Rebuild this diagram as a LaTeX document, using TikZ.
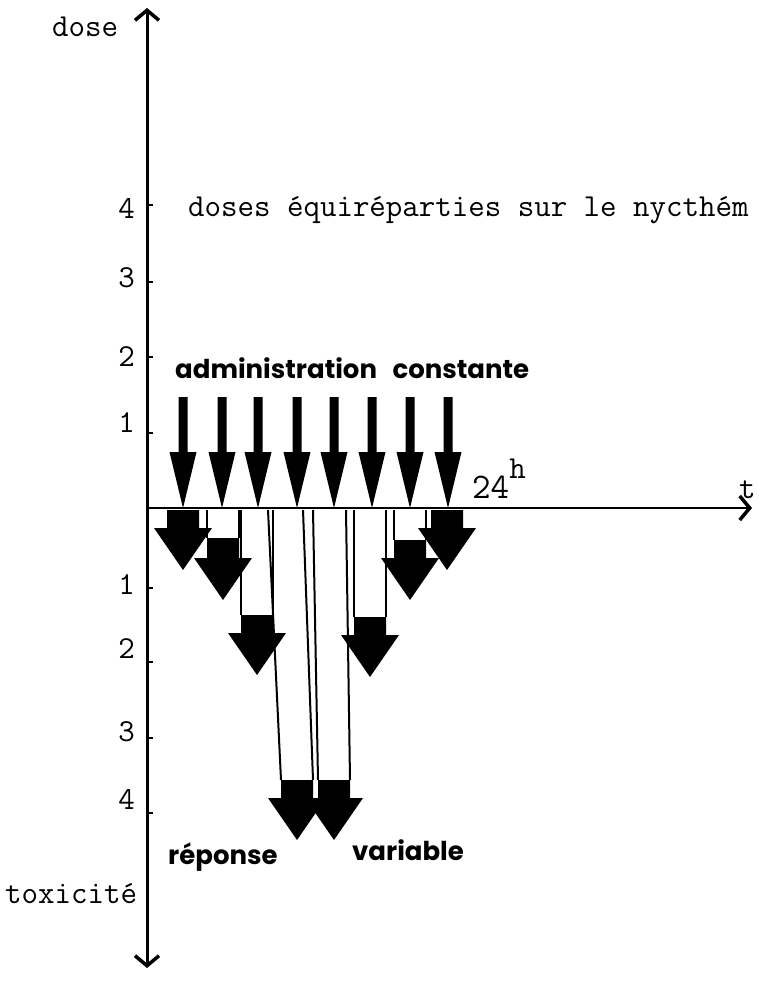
\documentclass[tikz,border=0pt]{standalone}
\usepackage{fontspec}
\newfontfamily\handfont{Poppins}
\usetikzlibrary{arrows.meta}

\begin{document}
\begin{tikzpicture}[
  x=1pt, y=-1pt,
  axis/.style={line width=3pt},
  barb/.style={-{Straight Barb[length=10pt,width=24pt,line width=3.5pt]}},
  tick/.style={line width=1.5pt},
  typed/.style={inner sep=0pt, font=\fontsize{32}{36}\selectfont\ttfamily},
  hand/.style={inner sep=0pt, font=\fontsize{26}{30}\selectfont\handfont\bfseries},
  shaft/.style={line width=2pt}
]
  \useasboundingbox (0,0) rectangle (758,981);

  % Axes
  \coordinate (origin) at (147,508);
  \coordinate (dosetop) at (147,8);
  \coordinate (toxbottom) at (147,968);
  \coordinate (tend) at (752,508);
  \draw[axis, barb] (origin) -- (dosetop);
  \draw[axis, barb] (origin) -- (toxbottom);
  \draw[line width=2.5pt, barb] (origin) -- (tend);

  % Graduations
  \foreach \yt/\yl/\v in {433/423/1, 357/357/2, 282/278/3, 205/209/4} {
    \draw[tick] (147,\yt) -- (153,\yt);
    \node[typed, anchor=east] (up\v) at (135,\yl) {\v};
  }
  \foreach \yt/\yl/\v in {588/585/1, 662/649/2, 738/732/3, 813/799/4} {
    \draw[tick] (147,\yt) -- (153,\yt);
    \node[typed, anchor=east] (down\v) at (135,\yl) {\v};
  }

  % Labels
  \node[typed, anchor=base west] (dose) at (52,37) {dose};
  \node[typed, anchor=base west] (doses) at (188,217) {doses équiréparties sur le nycthém};
  \node[typed, anchor=base west] (toxicite) at (5,903) {toxicité};
  \node[typed, anchor=base west] (tlabel) at (739,498) {t};
  \node[typed, anchor=base west, font=\fontsize{36}{40}\selectfont\ttfamily] (hours) at (472,498)
    {24\raisebox{0.55em}{\fontsize{32}{36}\selectfont h}};
  \node[hand, anchor=base west] (admin) at (175,378) {administration\hspace{10pt} constante};
  \node[hand, anchor=base west] (reponse) at (168,864) {réponse};
  \node[hand, anchor=base west] (variable) at (352,860) {variable};

  % Administration arrows
  \foreach \cx in {183,222,258,297,334,372,410,448}
    \fill ({\cx-4.5},397) -- ({\cx+4.5},397) -- ({\cx+4.5},452) -- ({\cx+13.5},452)
      -- (\cx,508) -- ({\cx-13.5},452) -- ({\cx-4.5},452) -- cycle;

  % Response arrows
  \foreach \cx/\xl/\xr/\bk/\tp in {183/167/199/510/570, 223/207/239/538/600,
      257/241/273/615/675, 297/268/303/780/840, 334/313/346/780/840,
      370/354/386/617/677, 410/394/426/540/600, 447/431/463/510/570} {
    \draw[shaft] (\xl,510) -- ({\cx-16},\bk) (\xr,510) -- ({\cx+16},\bk);
    \fill ({\cx-16},\bk) -- ({\cx+16},\bk) -- ({\cx+16},{\tp-42}) -- ({\cx+29},{\tp-42})
      -- (\cx,\tp) -- ({\cx-29},{\tp-42}) -- ({\cx-16},{\tp-42}) -- cycle;
  }
\end{tikzpicture}
\end{document}
